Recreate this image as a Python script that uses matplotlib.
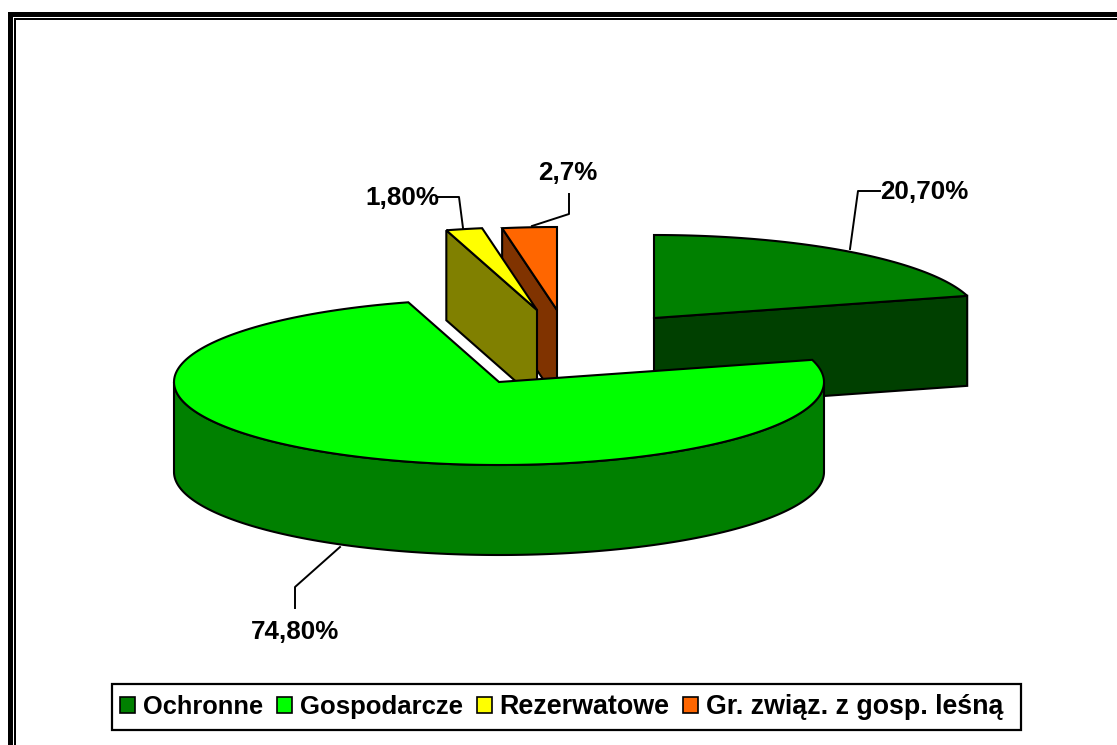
import numpy as np
import matplotlib
matplotlib.use('Agg')
import matplotlib.pyplot as plt
from matplotlib.patches import Patch, Rectangle

plt.rcParams['font.family'] = ['Liberation Sans', 'DejaVu Sans']

categories = ['Ochronne', 'Gospodarcze', 'Rezerwatowe', 'Gr. związ. z gosp. leśną']
shares = [20.7, 74.8, 1.8, 2.7]
value_labels = ['20,70%', '74,80%', '1,80%', '2,7%']
top_colors = ['#008000', '#00ff00', '#ffff00', '#ff6600']
side_colors = ['#004000', '#008000', '#808000', '#803300']

# slice apex positions (exploded pie), in pixels
centers = [(654, 318), (499, 382), (537, 310), (557, 310)]
rx, ry, depth = 325, 83, 90
lw = 1.5


def ell(cx, cy, deg):
    # angle clockwise from 12 o'clock
    a = np.radians(deg)
    return cx + rx * np.sin(a), cy - ry * np.cos(a)


def slice_top(cx, cy, start, stop):
    deg = np.linspace(start, stop, 200)
    xs, ys = ell(cx, cy, deg)
    return np.r_[cx, xs], np.r_[cy, ys]


fig, ax = plt.subplots(figsize=(11.17, 7.45), dpi=100)
ax.set_position([0, 0, 1, 1])
ax.set_xlim(0, 1117)
ax.set_ylim(745, 0)
ax.axis('off')

# double frame, only top and left are inside the picture
ax.fill([8, 1117, 1117, 13, 13, 8], [12, 12, 17, 17, 745, 745], color='black', lw=0)
ax.fill([14, 1117, 1117, 16, 16, 14], [18, 18, 20, 20, 745, 745], color='black', lw=0)

edges = np.cumsum([0] + shares) * 3.6

# back slices first, main slice goes on top of them
for i in [0, 3, 2, 1]:
    cx, cy = centers[i]
    start, stop = edges[i], edges[i + 1]

    if i == 1:
        # outer rim, only the front half can be seen
        deg = np.linspace(90, 270, 200)
        xs, ys = ell(cx, cy, deg)
        ax.fill(np.r_[xs, xs[::-1]], np.r_[ys, ys[::-1] + depth],
                fc=side_colors[i], ec='black', lw=lw, zorder=3)
    elif i == 0:
        # cut face along the end of the slice
        ex, ey = ell(cx, cy, stop)
        ax.fill([cx, ex, ex, cx], [cy, ey, ey + depth, cy + depth],
                fc=side_colors[i], ec='black', lw=lw, zorder=1)
    else:
        # cut face along the start of the slice
        ex, ey = ell(cx, cy, start)
        ax.fill([cx, ex, ex, cx], [cy, ey, ey + depth, cy + depth],
                fc=side_colors[i], ec='black', lw=lw, zorder=2 if i == 2 else 1)

    xs, ys = slice_top(cx, cy, start, stop)
    ax.fill(xs, ys, fc=top_colors[i], ec='black', lw=lw,
            zorder=3 if i == 1 else (2 if i == 2 else 1))

# leader lines
leaders = [([850, 858, 880], [249, 191, 191]),
           ([340, 295, 295], [547, 587, 608]),
           ([437, 459, 463], [197, 197, 228]),
           ([532, 569, 569], [226, 214, 194])]
label_pos = [(924.5, 192), (295, 632), (402, 198), (568, 173)]
for (lx, ly), (tx, ty), lab in zip(leaders, label_pos, value_labels):
    ax.plot(lx, ly, color='black', lw=1.4, zorder=4)
    ax.text(tx, ty, lab, fontsize=18.7, fontweight='bold', ha='center', va='center', zorder=5)

# legend frame drawn apart so the padding can differ left and right
ax.add_patch(Rectangle((112, 684), 909, 46, fc='white', ec='black', lw=1.6, zorder=5))
handles = [Patch(fc=c, ec='black', lw=1.2, label=n) for c, n in zip(top_colors, categories)]
leg = ax.legend(handles=handles, ncol=4, loc='center left', bbox_to_anchor=(120, 707),
                bbox_transform=ax.transData, frameon=False,
                prop={'weight': 'bold', 'size': 18.5},
                handlelength=0.58, handleheight=0.58, handletextpad=0.31,
                columnspacing=0.54, borderpad=0, borderaxespad=0)
leg.set_zorder(6)
for t, size in zip(leg.get_texts(), [18.3, 18.5, 19.4, 19.3]):
    t.set_fontsize(size)

plt.savefig('out.png', dpi=100)
